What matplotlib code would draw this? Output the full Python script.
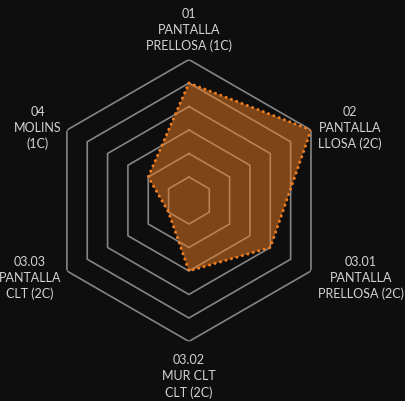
import numpy as np
import matplotlib
matplotlib.use("Agg")
import matplotlib.pyplot as plt

# Categories and scores
categories = ["01\nPANTALLA\nPRELLOSA (1C)",
              "02\nPANTALLA\nLLOSA (2C)",
              "03.01\nPANTALLA\nPRELLOSA (2C)",
              "03.02\nMUR CLT\nCLT (2C)",
              "03.03\nPANTALLA\nCLT (2C)",
              "04\nMOLINS\n(1C)"]
values = [5, 6, 4, 3, 1, 2]
ring_levels = [1, 2, 3, 4, 5, 6]

BG = "#0e0e0e"
ORANGE = "#ef7d22"
GRID = "#858585"
TEXT = "#d4d4d4"

n = len(categories)
theta = np.linspace(0, 2 * np.pi, n, endpoint=False)
theta_closed = np.append(theta, theta[0])

fig = plt.figure(figsize=(4.05, 4.02), dpi=100, facecolor=BG)
ax = fig.add_axes([0.1185, 0.148, 0.696, 0.7015], projection="polar")
ax.set_facecolor(BG)
ax.set_theta_offset(np.pi / 2)
ax.set_theta_direction(-1)
ax.set_ylim(0, ring_levels[-1])
ax.grid(False)
ax.spines["polar"].set_visible(False)
ax.set_xticks([])
ax.set_yticks([])

# Hexagonal grid rings
for lvl in ring_levels:
    ax.plot(theta_closed, [lvl] * (n + 1), color=GRID, lw=1.2, zorder=1)

# Filled area and dotted outline
vals_closed = values + values[:1]
ax.fill(theta_closed, vals_closed, color=ORANGE, alpha=0.5, lw=0, zorder=2)
ax.plot(theta_closed, vals_closed, color=ORANGE, lw=2.2,
        linestyle=(0, (0.01, 1.85)), dash_capstyle="round", zorder=3)

# Axis labels placed just outside the outer ring
rmax = ring_levels[-1]
for ang, lab in zip(theta, categories):
    deg = np.degrees(ang) % 360
    if deg < 1 or deg > 359:
        ha, va, off = "center", "bottom", (0, 6)
    elif abs(deg - 180) < 1:
        ha, va, off = "center", "top", (0, -8.5)
    else:
        ha = "left" if deg < 180 else "right"
        dx = 5 if deg < 180 else -4
        dy = 2 if (deg < 90 or deg > 270) else -4.5
        va, off = "center", (dx, dy)
    ax.annotate(lab, xy=(ang, rmax), xytext=off, textcoords="offset points",
                ha=ha, va=va, multialignment="center", color=TEXT,
                fontsize=9, family="Lato", linespacing=1.38,
                annotation_clip=False)

fig.savefig("out.png", dpi=100, facecolor=BG)
